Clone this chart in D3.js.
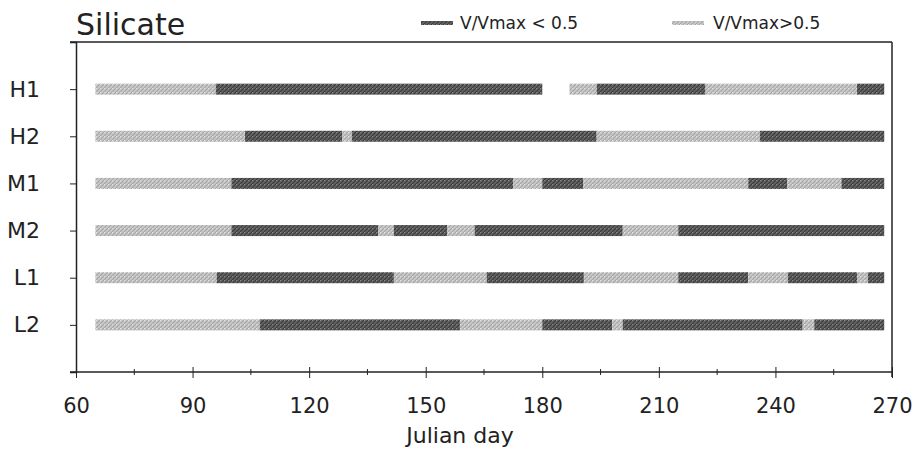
<!DOCTYPE html>
<html>
<head>
<meta charset="utf-8">
<script src="https://cdn.jsdelivr.net/npm/d3@7"></script>
<style>
  body { margin: 0; background: #fff; }
  text { font-family: "DejaVu Sans", sans-serif; fill: #222; }
</style>
</head>
<body>
<div id="chart"></div>
<script>
const width = 913
const height = 450
const marginLeft = 76
const marginRight = 21
const marginTop = 42
const marginBottom = 78

// Sites (top to bottom)
const sites = ["H1", "H2", "M1", "M2", "L1", "L2"]

// Segments per site: [start day, end day, state] ; "low" = V/Vmax < 0.5, "high" = V/Vmax > 0.5
const segH1 = [[65, 96, "high"], [96, 180, "low"], [187, 194, "high"], [194, 222, "low"], [222, 261, "high"], [261, 268, "low"]]
const segH2 = [[65, 103.5, "high"], [103.5, 128.5, "low"], [128.5, 131, "high"], [131, 194, "low"], [194, 236, "high"], [236, 268, "low"]]
const segM1 = [[65, 100, "high"], [100, 172.5, "low"], [172.5, 180, "high"], [180, 190.5, "low"], [190.5, 233, "high"], [233, 243, "low"], [243, 257, "high"], [257, 268, "low"]]
const segM2 = [[65, 100, "high"], [100, 137.8, "low"], [137.8, 141.8, "high"], [141.8, 155.5, "low"], [155.5, 162.6, "high"], [162.6, 200.7, "low"], [200.7, 215, "high"], [215, 268, "low"]]
const segL1 = [[65, 96.2, "high"], [96.2, 141.8, "low"], [141.8, 165.7, "high"], [165.7, 190.7, "low"], [190.7, 215, "high"], [215, 233, "low"], [233, 243.2, "high"], [243.2, 261, "low"], [261, 263.8, "high"], [263.8, 268, "low"]]
const segL2 = [[65, 107.3, "high"], [107.3, 158.8, "low"], [158.8, 180, "high"], [180, 198, "low"], [198, 200.7, "high"], [200.7, 247, "low"], [247, 250, "high"], [250, 268, "low"]]

const segments = [segH1, segH2, segM1, segM2, segL1, segL2]

// Axis ticks
const xMajorTicks = [60, 90, 120, 150, 180, 210, 240, 270]
const xMinorTicks = [75, 105, 135, 165, 195, 225, 255]

const legendLabels = ["V/Vmax < 0.5", "V/Vmax>0.5"]

const svg = d3.select("#chart")
              .append("svg")
                .attr("width", width)
                .attr("height", height)

// Hatched fills to imitate the printed shading
const defs = svg.append("defs")
const addHatch = (id, base, line, dot) => {
  const p = defs.append("pattern")
                .attr("id", id)
                .attr("width", 4)
                .attr("height", 4)
                .attr("patternUnits", "userSpaceOnUse")
  p.append("rect").attr("width", 4).attr("height", 4).attr("fill", base)
  p.append("path")
    .attr("d", "M0,4 L4,0 M-1,1 L1,-1 M3,5 L5,3")
    .attr("stroke", line)
    .attr("stroke-width", 1.1)
  p.append("rect").attr("x", 0).attr("y", 0).attr("width", 1).attr("height", 1).attr("fill", dot)
}
addHatch("hatch-low", "#646464", "#383838", "#888888")
addHatch("hatch-high", "#cacaca", "#a4a4a4", "#e2e2e2")

const fillFor = state => state === "low" ? "url(#hatch-low)" : "url(#hatch-high)"

// Scales
const xScale = d3.scaleLinear()
                 .domain([60, 270])
                 .range([marginLeft, width - marginRight])

const yScale = d3.scalePoint()
                 .domain(["", ...sites, " "])
                 .range([marginTop, height - marginBottom])

const barHeight = 11

// Bars
sites.forEach((site, i) => {
  svg.append("g")
     .selectAll("rect")
     .data(segments[i])
     .join("rect")
       .attr("x", d => xScale(d[0]))
       .attr("y", yScale(site) - barHeight / 2)
       .attr("width", d => xScale(d[1]) - xScale(d[0]))
       .attr("height", barHeight)
       .attr("fill", d => fillFor(d[2]))
})

// Frame: top line and right side
svg.append("line")
   .attr("x1", marginLeft - 6).attr("x2", width - marginRight)
   .attr("y1", marginTop).attr("y2", marginTop)
   .attr("stroke", "#222").attr("stroke-width", 1.5)
svg.append("line")
   .attr("x1", width - marginRight).attr("x2", width - marginRight)
   .attr("y1", marginTop).attr("y2", height - marginBottom + 5)
   .attr("stroke", "#222").attr("stroke-width", 1.5)

// y-axis
const yAxis = d3.axisLeft(yScale)
                .tickValues(sites)
                .tickSize(6)
                .tickPadding(30)
svg.append("g")
   .attr("class", "axis")
   .attr("transform", `translate(${marginLeft}, 0)`)
   .call(yAxis)
   .call(g => g.select(".domain").attr("stroke", "#222").attr("stroke-width", 1.5))
   .call(g => g.selectAll("line").attr("stroke", "#222"))
   .call(g => g.selectAll("text").attr("font-size", 22).attr("font-family", "DejaVu Sans").attr("fill", "#333"))

// x-axis: major ticks cross the line
const xAxis = d3.axisBottom(xScale)
                .tickValues(xMajorTicks)
                .tickFormat(d3.format("d"))
                .tickSizeOuter(0)
                .tickSize(6)
                .tickPadding(20)
const xg = svg.append("g")
              .attr("class", "axis")
              .attr("transform", `translate(0, ${height - marginBottom})`)
              .call(xAxis)
xg.select(".domain")
  .attr("d", `M${marginLeft - 6},0H${width - marginRight}`)
  .attr("stroke", "#222").attr("stroke-width", 1.5)
xg.selectAll(".tick line").attr("y1", -5).attr("y2", 6).attr("stroke", "#222")
xg.selectAll(".tick text").attr("font-size", 21).attr("font-family", "DejaVu Sans").attr("fill", "#333")

// minor ticks
xg.selectAll(".minor")
  .data(xMinorTicks)
  .join("line")
    .attr("class", "minor")
    .attr("x1", d => xScale(d)).attr("x2", d => xScale(d))
    .attr("y1", -3).attr("y2", 3)
    .attr("stroke", "#222")

// x-axis title
svg.append("text")
   .attr("x", 460)
   .attr("y", 443)
   .attr("text-anchor", "middle")
   .attr("font-size", 22)
   .attr("fill", "#333")
   .text("Julian day")

// Chart title
svg.append("text")
   .attr("x", 76)
   .attr("y", 35)
   .attr("font-size", 30)
   .attr("fill", "#333")
   .text("Silicate")

// Legend
const legendX = [421, 672]
const legendTextX = [460, 713]
const legendStates = ["low", "high"]
legendLabels.forEach((label, i) => {
  svg.append("rect")
     .attr("x", legendX[i])
     .attr("y", 21)
     .attr("width", 32)
     .attr("height", 4)
     .attr("fill", fillFor(legendStates[i]))
  svg.append("text")
     .attr("x", legendTextX[i])
     .attr("y", 29)
     .attr("font-size", 17)
     .attr("fill", "#333")
     .text(label)
})
</script>
</body>
</html>
